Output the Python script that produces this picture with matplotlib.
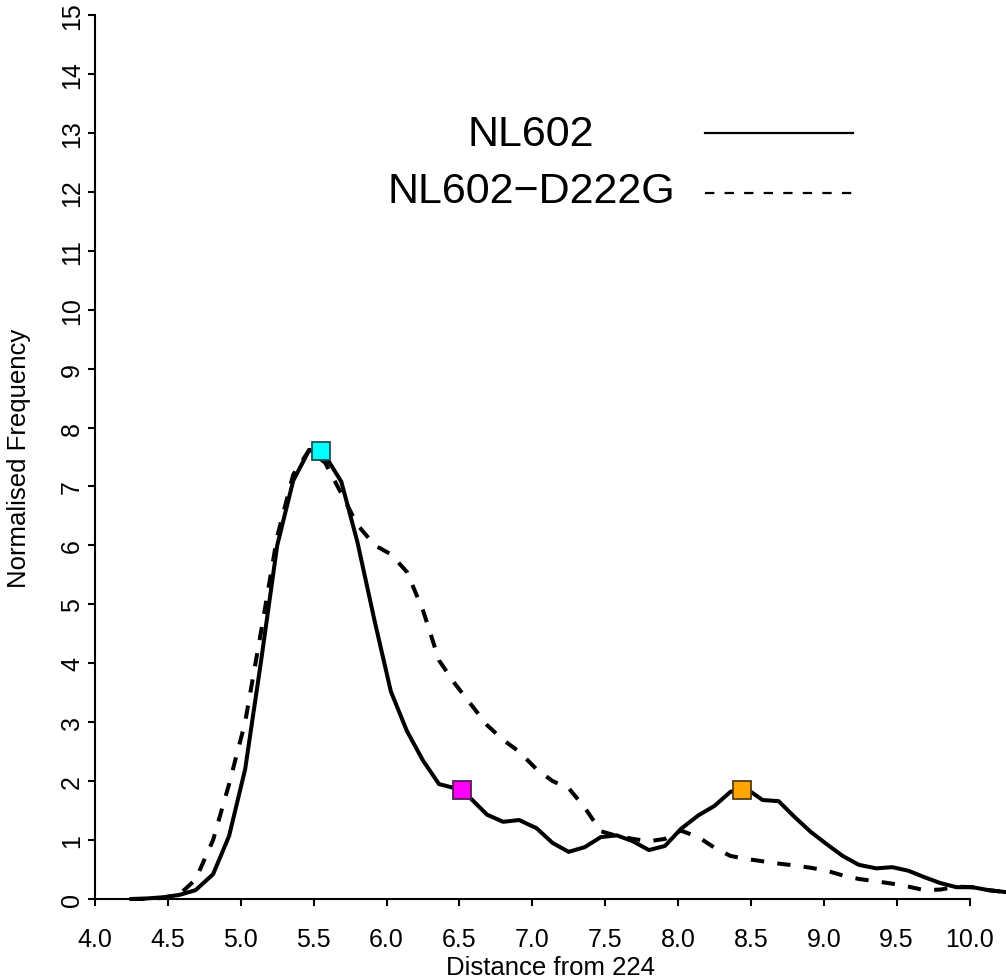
import matplotlib
matplotlib.use("Agg")
import matplotlib.pyplot as plt
from matplotlib.lines import Line2D

plt.rcParams['font.family'] = ['Liberation Sans', 'DejaVu Sans']

# distance bins
distance = [4.25, 4.36, 4.47, 4.58, 4.69, 4.81, 4.92, 5.03, 5.14, 5.25,
            5.36, 5.47, 5.58, 5.69, 5.80, 5.92, 6.03, 6.14, 6.25, 6.36,
            6.47, 6.58, 6.69, 6.80, 6.91, 7.03, 7.14, 7.25, 7.36, 7.47,
            7.58, 7.69, 7.80, 7.91, 8.02, 8.14, 8.25, 8.36, 8.47, 8.58,
            8.69, 8.80, 8.91, 9.02, 9.13, 9.24, 9.36, 9.47, 9.58, 9.69,
            9.80, 9.91, 10.02, 10.13, 10.24]

nl602 = [0.0, 0.01, 0.03, 0.07, 0.15, 0.42, 1.07, 2.2, 4.05, 6.0,
         7.1, 7.62, 7.52, 7.08, 6.06, 4.7, 3.52, 2.85, 2.35, 1.95,
         1.88, 1.7, 1.43, 1.31, 1.34, 1.2, 0.95, 0.80, 0.88, 1.05,
         1.08, 0.98, 0.83, 0.9, 1.19, 1.42, 1.58, 1.82, 1.87, 1.68,
         1.66, 1.39, 1.14, 0.93, 0.73, 0.58, 0.52, 0.54, 0.48, 0.37,
         0.27, 0.2, 0.2, 0.15, 0.12]

nl602_d222g = [0.0, 0.0, 0.02, 0.08, 0.33, 1.0, 1.95, 3.0, 4.55, 6.15,
               7.2, 7.62, 7.4, 6.88, 6.35, 6.0, 5.85, 5.55, 4.9, 4.05,
               3.65, 3.3, 2.95, 2.7, 2.5, 2.2, 2.0, 1.88, 1.55, 1.15,
               1.07, 1.02, 0.98, 1.02, 1.16, 1.05, 0.87, 0.73, 0.68, 0.64,
               0.6, 0.57, 0.53, 0.48, 0.4, 0.34, 0.3, 0.26, 0.21, 0.15,
               0.16, 0.21, 0.2, 0.15, 0.12]

# highlighted points
marker_x = [5.55, 6.52, 8.44]
marker_y = [7.6, 1.85, 1.85]
marker_face = ['#00ffff', '#ff00ff', '#ffa500']
marker_edge = ['#1e5050', '#501e50', '#503c14']

xticks = [4.0, 4.5, 5.0, 5.5, 6.0, 6.5, 7.0, 7.5, 8.0, 8.5, 9.0, 9.5, 10.0]
yticks = list(range(0, 16))

W, H = 1006, 978
fig = plt.figure(figsize=(W / 100, H / 100), dpi=100)
ax = fig.add_axes([95 / W, (H - 900) / H, (W - 95) / W, (900 - 16) / H])

ax.plot(distance, nl602, color='black', lw=2.9, solid_joinstyle='round',
        clip_on=False, zorder=3)
ax.plot(distance, nl602_d222g, color='black', lw=2.9, dashes=(3.3, 3.3),
        clip_on=False, zorder=3)

for mx, my, fc, ec in zip(marker_x, marker_y, marker_face, marker_edge):
    ax.plot([mx], [my], marker='s', ms=13, mfc=fc, mec=ec, mew=1.3,
            ls='none', zorder=5, clip_on=False)

ax.set_xlim(4.0, 10.25)
ax.set_ylim(0, 15)

for s in ['top', 'right']:
    ax.spines[s].set_visible(False)
ax.spines['left'].set_bounds(0, 15)
ax.spines['bottom'].set_bounds(4.0, 10.0)
ax.spines['left'].set_linewidth(1.5)
ax.spines['bottom'].set_linewidth(1.5)

ax.set_xticks(xticks)
ax.set_xticklabels([f"{t:.1f}" for t in xticks])
ax.set_yticks(yticks)
ax.set_yticklabels([str(t) for t in yticks], rotation=90, va='center')
ax.tick_params(axis='both', direction='out', length=5, width=1.5,
               labelsize=18)
ax.tick_params(axis='x', pad=15)
ax.tick_params(axis='y', pad=3)

ax.set_xlabel("Distance from 224", fontsize=18.5, labelpad=3)
fig.text(19 / W, 1 - 458 / H, "Normalised Frequency", rotation=90,
         fontsize=18.5, ha='center', va='center')

# legend, drawn by hand: centred labels with sample lines to the right
fig.text(531 / W, 1 - 135 / H, "NL602", fontsize=31, ha='center',
         va='center')
fig.text(531 / W, 1 - 192 / H, "NL602\u2212D222G", fontsize=31,
         ha='center', va='center')
fig.add_artist(Line2D([705 / W, 853 / W], [1 - 134 / H, 1 - 134 / H],
                      transform=fig.transFigure, color='black', lw=1.6))
fig.add_artist(Line2D([705 / W, 853 / W], [1 - 194 / H, 1 - 194 / H],
                      transform=fig.transFigure, color='black', lw=1.6,
                      dashes=(4.2, 4.6)))

fig.savefig("out.png", dpi=100)
